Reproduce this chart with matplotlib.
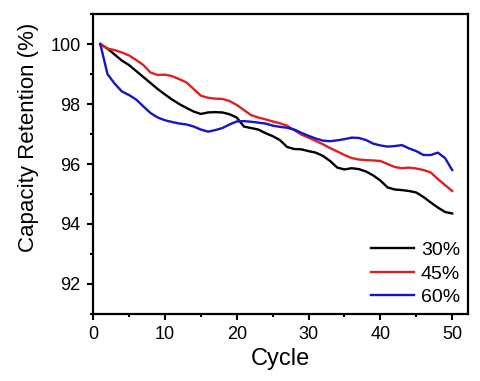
import matplotlib.pyplot as plt
from matplotlib.ticker import MultipleLocator
import numpy as np

plt.rcParams['font.family'] = ['Liberation Sans', 'DejaVu Sans']

# Capacity retention per cycle
cycles = np.arange(1, 51)
ret_30 = [100.0, 99.85, 99.65, 99.45, 99.3, 99.1, 98.9, 98.7, 98.5, 98.32,
          98.15, 98.0, 97.87, 97.75, 97.67, 97.72, 97.73, 97.72, 97.66, 97.55,
          97.25, 97.2, 97.15, 97.03, 96.93, 96.8, 96.57, 96.5, 96.49, 96.43,
          96.38, 96.27, 96.1, 95.88, 95.82, 95.86, 95.83, 95.75, 95.62, 95.45,
          95.22, 95.15, 95.13, 95.1, 95.05, 94.9, 94.72, 94.55, 94.4, 94.35]
ret_45 = [100.0, 99.85, 99.8, 99.72, 99.62, 99.47, 99.3, 99.05, 98.97, 98.98,
          98.93, 98.83, 98.72, 98.5, 98.28, 98.21, 98.18, 98.17, 98.1, 97.97,
          97.8, 97.63, 97.55, 97.49, 97.42, 97.36, 97.28, 97.13, 96.98, 96.88,
          96.77, 96.66, 96.53, 96.42, 96.3, 96.2, 96.15, 96.13, 96.12, 96.1,
          96.0, 95.9, 95.86, 95.88, 95.85, 95.8, 95.72, 95.5, 95.3, 95.1]
ret_60 = [100.0, 99.0, 98.68, 98.42, 98.3, 98.15, 97.92, 97.7, 97.55, 97.46,
          97.4, 97.35, 97.32, 97.25, 97.15, 97.08, 97.13, 97.2, 97.32, 97.42,
          97.43, 97.41, 97.38, 97.35, 97.28, 97.24, 97.21, 97.15, 97.04, 96.94,
          96.85, 96.78, 96.76, 96.79, 96.83, 96.88, 96.87, 96.8, 96.68, 96.62,
          96.58, 96.6, 96.63, 96.52, 96.43, 96.3, 96.3, 96.38, 96.2, 95.8]
labels = ['30%', '45%', '60%']
colors = ['black', '#e02020', '#1515c8']

fig = plt.figure(figsize=(4.8, 3.81), dpi=100)
ax = fig.add_axes([0.194, 0.176, 0.781, 0.787])

for y, lab, c in zip([ret_30, ret_45, ret_60], labels, colors):
    ax.plot(cycles, y, color=c, linewidth=1.7, label=lab)

ax.set_xlim(0, 52.2)
ax.set_ylim(91, 101)
ax.xaxis.set_major_locator(MultipleLocator(10))
ax.xaxis.set_minor_locator(MultipleLocator(5))
ax.yaxis.set_major_locator(MultipleLocator(2))
ax.yaxis.set_minor_locator(MultipleLocator(1))
ax.tick_params(which='both', direction='out', width=1.5, labelsize=13, pad=5)
ax.tick_params(which='major', length=4)
ax.tick_params(which='minor', length=2.5)
for s in ax.spines.values():
    s.set_linewidth(1.6)

ax.set_xlabel('Cycle', fontsize=17, labelpad=3)
ax.set_ylabel('Capacity Retention (%)', fontsize=16, labelpad=8)
ax.yaxis.set_label_coords(-0.145, 0.59)

ax.legend(loc='lower right', bbox_to_anchor=(1.0, 0.0), frameon=False,
          fontsize=14, handlelength=2.2, handletextpad=0.35,
          labelspacing=0.3, borderaxespad=0.0)

plt.savefig('out.png', dpi=100)
